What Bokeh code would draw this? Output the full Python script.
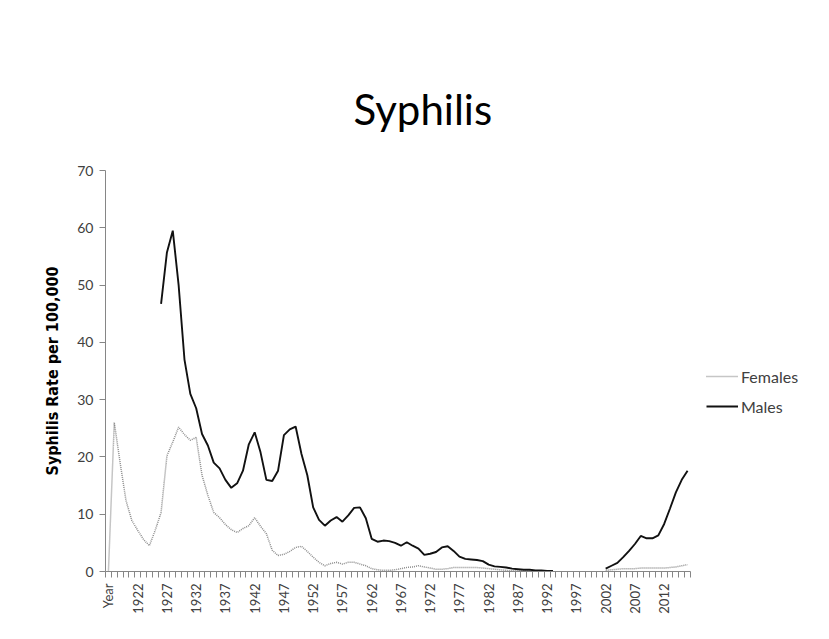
import math
import numpy as np
from bokeh.plotting import figure
from bokeh.models import (Range1d, LinearAxis, FixedTicker,
                          Legend, LegendItem, ColumnDataSource)
from bokeh.embed import file_html
from bokeh.resources import INLINE

nan = float("nan")

categories = ["Year"] + [str(y) for y in range(1918, 2017)]

females = [0,
    26, 19, 12.4, 8.9, 7.2, 5.6, 4.5, 7.2, 10.3, 20.2,            # 1918-1927
    22.6, 25.2, 23.9, 22.9, 23.4, 16.8, 13.3, 10.3, 9.4, 8.2,     # 1928-1937
    7.3, 6.8, 7.5, 8.0, 9.4, 7.9, 6.6, 3.7, 2.8, 3.0,             # 1938-1947
    3.5, 4.2, 4.4, 3.5, 2.5, 1.6, 1.0, 1.4, 1.6, 1.3,             # 1948-1957
    1.6, 1.6, 1.3, 1.0, 0.5, 0.3, 0.2, 0.2, 0.3, 0.5,             # 1958-1967
    0.7, 0.8, 1.0, 0.8, 0.6, 0.4, 0.4, 0.5, 0.7, 0.7,             # 1968-1977
    0.7, 0.7, 0.7, 0.6, 0.5, 0.4, 0.3, 0.2, 0.15, 0.1,            # 1978-1987
    0.1, 0.1, 0.1, 0.1, 0.1, 0.1,                                 # 1988-1993
    nan, nan, nan, nan, nan, nan, nan, nan,                       # 1994-2001
    0.2, 0.3, 0.4, 0.5, 0.5, 0.5, 0.6, 0.6, 0.6, 0.6,             # 2002-2011
    0.6, 0.7, 0.8, 1.0, 1.2]                                      # 2012-2016

males = [nan,
    nan, nan, nan, nan, nan, nan, nan, nan, 46.7, 55.7,           # 1918-1927
    59.5, 50.0, 37.0, 31.0, 28.5, 24.0, 22.0, 19.0, 18.0, 16.0,   # 1928-1937
    14.6, 15.4, 17.6, 22.2, 24.3, 20.8, 16.0, 15.8, 17.6, 23.8,   # 1938-1947
    24.8, 25.3, 20.5, 16.8, 11.2, 9.0, 8.0, 8.9, 9.5, 8.7,        # 1948-1957
    9.8, 11.1, 11.2, 9.3, 5.7, 5.2, 5.4, 5.3, 5.0, 4.5,           # 1958-1967
    5.1, 4.5, 4.0, 2.9, 3.1, 3.4, 4.2, 4.4, 3.6, 2.6,             # 1968-1977
    2.2, 2.1, 2.0, 1.8, 1.2, 0.9, 0.8, 0.7, 0.5, 0.4,             # 1978-1987
    0.3, 0.3, 0.2, 0.2, 0.1, 0.1,                                 # 1988-1993
    nan, nan, nan, nan, nan, nan, nan, nan,                       # 1994-2001
    0.5, 1.0, 1.5, 2.5, 3.6, 4.8, 6.2, 5.8, 5.8, 6.3,             # 2002-2011
    8.3, 11.0, 13.8, 16.0, 17.6]                                  # 2012-2016

y_ticks = [0, 10, 20, 30, 40, 50, 60, 70]
y_max = 70

FONT = "Lato"
AXIS_GRAY = "#868686"
TEXT = "#404040"

# page geometry (pixels)
W, H = 829, 639
LEFT, TOP, BOTTOM = 105, 170, 68
AXIS_PX_X = 585                  # drawn length of the category axis

n = len(categories)
xpos = np.arange(n) + 0.5        # each category occupies one slot

frame_w = W - LEFT
x_end = n * frame_w / AXIS_PX_X  # frame runs on to the right edge (legend room)

src = ColumnDataSource(dict(x=xpos, cat=categories,
                            females=np.array(females, dtype=float),
                            males=np.array(males, dtype=float)))

p = figure(width=W, height=H,
           x_range=Range1d(0, x_end), y_range=Range1d(0, y_max),
           x_axis_type=None,
           output_backend="svg", toolbar_location=None,
           min_border_left=LEFT, min_border_right=0,
           min_border_top=TOP, min_border_bottom=BOTTOM)
p.outline_line_color = None
p.grid.visible = False
p.background_fill_color = "white"
p.border_fill_color = "white"

p.title.text = "Syphilis"
p.title.text_font = FONT
p.title.text_font_size = "42px"
p.title.text_font_style = "normal"
p.title.text_color = "black"
p.title.align = "left"
p.title.offset = 248
p.title.standoff = 73

label_idx = list(range(0, n, 5))
xaxis = LinearAxis(ticker=FixedTicker(ticks=[xpos[i] for i in label_idx],
                                      minor_ticks=list(range(n + 1))),
                   bounds=(0, n))
xaxis.major_label_overrides = {float(xpos[i]): categories[i] for i in label_idx}
xaxis.major_tick_out = 0
xaxis.major_tick_in = 0
xaxis.minor_tick_out = 6
xaxis.minor_tick_in = 0
xaxis.minor_tick_line_color = AXIS_GRAY
xaxis.axis_line_color = AXIS_GRAY
xaxis.major_label_orientation = math.pi / 2
xaxis.major_label_text_font = FONT
xaxis.major_label_text_font_size = "13px"
xaxis.major_label_text_color = TEXT
xaxis.major_label_standoff = 6
p.add_layout(xaxis, "below")

yaxis = p.yaxis[0]
yaxis.ticker = FixedTicker(ticks=y_ticks)
yaxis.bounds = (0, y_max)
yaxis.minor_tick_line_color = None
yaxis.major_tick_out = 6
yaxis.major_tick_in = 0
yaxis.major_tick_line_color = AXIS_GRAY
yaxis.axis_line_color = AXIS_GRAY
yaxis.major_label_text_font = FONT
yaxis.major_label_text_font_size = "14px"
yaxis.major_label_text_color = TEXT
yaxis.major_label_standoff = 6
yaxis.axis_label = "Syphilis Rate per 100,000"
yaxis.axis_label_text_font = "DejaVu Sans Condensed"
yaxis.axis_label_text_font_style = "bold"
yaxis.axis_label_text_font_size = "16px"
yaxis.axis_label_text_color = "black"
yaxis.axis_label_standoff = 12

rf = p.line("x", "females", source=src, line_color="#8c8c8c",
            line_width=1.5, line_dash="1 1")
rm = p.line("x", "males", source=src, line_color="#111111", line_width=1.9)

legend = Legend(items=[LegendItem(label="Females", renderers=[rf]),
                       LegendItem(label="Males", renderers=[rm])],
                location=(601, 155), orientation="vertical",
                border_line_color=None, background_fill_alpha=0,
                label_text_font=FONT, label_text_font_size="16px",
                label_text_color=TEXT, glyph_width=32, glyph_height=20,
                label_height=20, spacing=10, padding=0, margin=0,
                label_standoff=3)
p.add_layout(legend)

open("out.html", "w").write(file_html(p, INLINE))
